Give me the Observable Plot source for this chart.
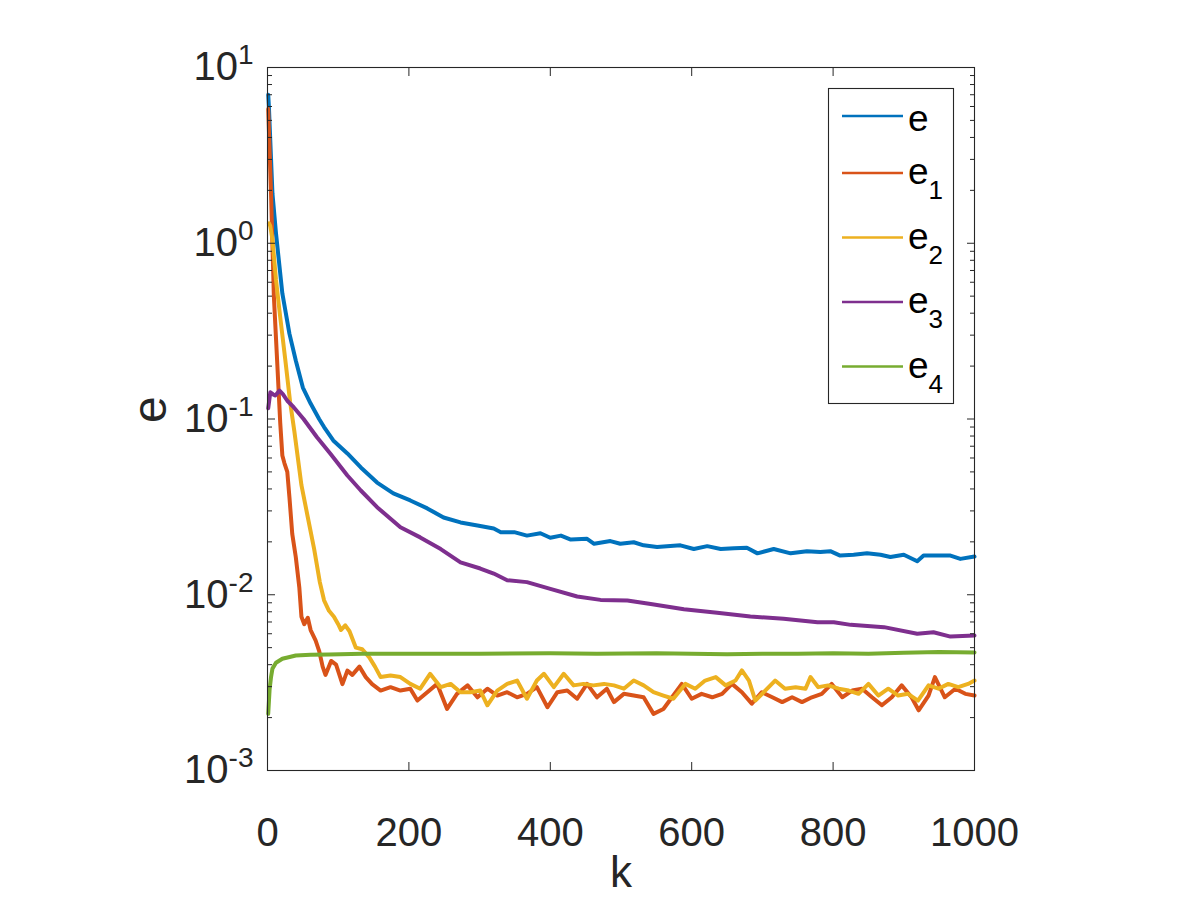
<!DOCTYPE html>
<html>
<head>
<meta charset="utf-8">
<script src="https://cdn.jsdelivr.net/npm/d3@7"></script>
<script src="https://cdn.jsdelivr.net/npm/@observablehq/plot@0.6"></script>
<style>
  html, body { margin: 0; padding: 0; background: #fff; }
  #chart { width: 1200px; height: 900px; }
</style>
</head>
<body>
<div id="chart"></div>
<script>
// Error e and its components e1..e4 against iteration k
const kE = [1,2,7,12,21,31,40,50,61,73,80,93,113,132,155,178,202,226,249,273,297,320,330,349,367,386,400,415,429,452,462,485,499,518,532,551,565,584,603,622,641,660,678,693,716,740,763,782,796,810,829,848,867,881,900,919,928,947,966,980,1000];
const e = [7.0,5.95,1.92,1.14,0.518,0.306,0.215,0.151,0.1225,0.100,0.090,0.0755,0.0637,0.053,0.0435,0.0377,0.0344,0.031,0.0275,0.0258,0.0248,0.0238,0.0227,0.0227,0.0217,0.0224,0.0211,0.0217,0.0206,0.0208,0.0195,0.0202,0.0195,0.0199,0.0191,0.0187,0.0189,0.0191,0.0182,0.0189,0.0182,0.0184,0.0185,0.0172,0.0182,0.0172,0.0177,0.0175,0.0177,0.0167,0.0169,0.0172,0.0169,0.0164,0.0169,0.0155,0.0167,0.0167,0.0167,0.0160,0.0165];

const kE1 = [1,5,9,14,18,21,24,28,31,35,40,45,48,52,57,61,68,73,78,82,90,97,106,113,120,130,139,148,
  160,174,188,202,212,226,240,254,268,283,297,311,325,339,353,367,381,396,410,424,438,452,466,480,490,504,518,532,546,560,574,
  586,600,614,629,643,657,671,685,699,714,728,742,756,770,784,798,813,827,841,855,869,883,897,911,921,935,944,958,973,987,1000];
const e1 = [5.8,1.91,0.50,0.20,0.095,0.062,0.056,0.050,0.036,0.0222,0.0164,0.011,0.0075,0.0068,0.0074,0.0063,0.0055,0.0048,0.0039,0.0035,0.0042,0.0040,0.0031,0.0037,0.0035,0.0039,0.0034,0.0031,
  0.00285,0.00298,0.00285,0.00292,0.00250,0.00279,0.00311,0.00224,0.00273,0.00305,0.00261,0.00292,0.00267,0.00279,0.00261,0.00273,0.00298,0.00229,0.00279,0.00285,0.00256,0.00311,0.00261,0.00292,0.00245,0.00273,0.00267,0.00261,0.00210,0.00224,0.00267,
  0.00311,0.00256,0.00273,0.00261,0.00273,0.00311,0.00279,0.00240,0.00279,0.00261,0.00245,0.00261,0.00245,0.00261,0.00273,0.00311,0.00261,0.00285,0.00292,0.00261,0.00235,0.00261,0.00305,0.00261,0.00220,0.00267,0.00340,0.00261,0.00292,0.00273,0.00267];

const kE2 = [2,4,7,12,18,25,32,38,48,57,66,74,80,87,94,100,104,110,116,125,134,144,152,
  160,174,188,202,216,230,245,259,273,287,301,311,325,339,353,367,381,391,405,419,433,447,461,476,490,504,518,532,546,560,574,
  591,605,619,634,648,662,671,681,690,704,718,732,747,761,768,779,793,808,822,836,850,864,878,892,906,920,935,949,963,977,991,1000];
const e2 = [1.3,1.25,1.05,0.62,0.38,0.22,0.125,0.085,0.042,0.0276,0.0182,0.0118,0.0093,0.0081,0.0075,0.0068,0.0063,0.0067,0.0062,0.0050,0.0049,0.0044,0.0039,
  0.00340,0.00347,0.00340,0.00311,0.00292,0.00355,0.00298,0.00311,0.00279,0.00279,0.00285,0.00235,0.00285,0.00311,0.00325,0.00256,0.00325,0.00355,0.00298,0.00355,0.00305,0.00311,0.00305,0.00311,0.00305,0.00292,0.00325,0.00305,0.00279,0.00267,0.00256,
  0.00311,0.00292,0.00325,0.00340,0.00305,0.00325,0.00371,0.00325,0.00250,0.00285,0.00325,0.00292,0.00298,0.00292,0.00340,0.00298,0.00305,0.00292,0.00285,0.00273,0.00311,0.00267,0.00292,0.00267,0.00273,0.00250,0.00305,0.00292,0.00311,0.00298,0.00311,0.00325];

const kE3 = [1,4,8,11,17,22,28,37,51,70,89,113,132,155,188,216,245,273,301,320,339,367,400,438,471,509,542,589,636,683,730,778,801,825,872,919,942,966,1000];
const e3 = [0.115,0.142,0.138,0.136,0.145,0.138,0.127,0.1167,0.100,0.0787,0.0634,0.0477,0.0392,0.0315,0.0242,0.0212,0.0182,0.0153,0.0141,0.0132,0.0121,0.0118,0.0108,0.00977,0.00935,0.00927,0.00887,0.00827,0.00789,0.00752,0.0073,0.00698,0.00698,0.00674,0.00654,0.0060,0.00612,0.00578,0.00586];

const kE4 = [1,3,5,7,12,21,40,61,87,134,200,300,400,466,550,650,700,750,800,850,900,950,1000];
const e4 = [0.0021,0.0029,0.0034,0.0038,0.0041,0.00432,0.00451,0.00455,0.00457,0.00461,0.00462,0.00462,0.00465,0.00462,0.00465,0.00458,0.00462,0.00462,0.00465,0.00462,0.00468,0.00472,0.0047];

const seriesNames = ["e", "e1", "e2", "e3", "e4"];
const seriesSubs = ["", "1", "2", "3", "4"];
const seriesColors = ["#0072BD", "#D95319", "#EDB120", "#7E2F8E", "#77AC30"];

const xTicks = [0, 200, 400, 600, 800, 1000];
const yMajor = [1e-3, 1e-2, 1e-1, 1, 10];
const yTickLabels = ["10^-3", "10^-2", "10^-1", "10^0", "10^1"];
const yMinor = [-3, -2, -1, 0].flatMap(p => [2, 3, 4, 5, 6, 7, 8, 9].map(d => +(d * Math.pow(10, p)).toPrecision(3)));

const ks = [kE, kE1, kE2, kE3, kE4];
const vs = [e, e1, e2, e3, e4];
const rows = seriesNames.map((name, s) => ks[s].map((k, i) => ({series: name, k, v: vs[s][i]})));

const axisColor = "#262626";
const fontFamily = "'Liberation Sans', Arial, Helvetica, sans-serif";

const chart = Plot.plot({
  width: 1200,
  height: 900,
  marginLeft: 267,
  marginRight: 226,
  marginTop: 67,
  marginBottom: 130,
  style: {fontFamily, fontSize: "40px", color: axisColor, background: "#fff"},
  x: {domain: [0, 1000], axis: null},
  y: {type: "log", domain: [1e-3, 10], axis: null},
  marks: [
    ...rows.map((r, s) => Plot.line(r, {x: "k", y: "v", stroke: seriesColors[s], strokeWidth: 4, strokeLinejoin: "round", strokeLinecap: "round"})),
    Plot.frame({stroke: axisColor, strokeWidth: 1.1}),
    // inward ticks on all four sides
    Plot.axisX({anchor: "bottom", ticks: xTicks, tickSize: -8, fill: "none", label: null, stroke: axisColor}),
    Plot.axisX({anchor: "top", ticks: xTicks, tickSize: -8, fill: "none", label: null, stroke: axisColor}),
    Plot.axisY({anchor: "left", ticks: yMajor, tickSize: -8, fill: "none", label: null, stroke: axisColor}),
    Plot.axisY({anchor: "right", ticks: yMajor, tickSize: -8, fill: "none", label: null, stroke: axisColor}),
    Plot.axisY({anchor: "left", ticks: yMinor, tickSize: -5, fill: "none", label: null, stroke: axisColor}),
    Plot.axisY({anchor: "right", ticks: yMinor, tickSize: -5, fill: "none", label: null, stroke: axisColor}),
    // tick labels
    Plot.axisX({anchor: "bottom", ticks: xTicks, tickSize: 0, tickPadding: 47, tickFormat: d => String(d), label: null, fill: axisColor, fontSize: 40}),
    Plot.text(yMajor, {y: d => d, text: yTickLabels, frameAnchor: "left", textAnchor: "end", dx: -14, fontSize: 40, fill: axisColor}),
    // axis titles
    Plot.text(["k"], {frameAnchor: "bottom", dy: 116, fontSize: 44, fill: axisColor}),
    Plot.text(["e"], {frameAnchor: "left", dx: -117, dy: 4, rotate: -90, fontSize: 48, fill: axisColor})
  ]
});

document.getElementById("chart").appendChild(chart);

// power-of-ten labels with raised exponents
d3.select(chart).selectAll("text").each(function () {
  const m = /^10\^(.+)$/.exec(this.textContent);
  if (!m) return;
  this.textContent = "";
  const t = d3.select(this);
  t.append("tspan").text("10");
  t.append("tspan").attr("font-size", 28).attr("dy", -16).text(m[1]);
});

// legend box
const svg = d3.select(chart);
const lg = svg.append("g")
  .attr("font-family", fontFamily)
  .attr("font-size", 37)
  .attr("text-anchor", "start");
lg.append("rect")
  .attr("x", 828.5).attr("y", 88.5).attr("width", 125).attr("height", 315)
  .attr("fill", "#fff").attr("stroke", axisColor).attr("stroke-width", 1.1);
seriesNames.forEach((name, i) => {
  const cy = i === 0 ? 116 : 173 + (i - 1) * 64.5;
  lg.append("line")
    .attr("x1", 842).attr("x2", 903).attr("y1", cy).attr("y2", cy)
    .attr("stroke", seriesColors[i]).attr("stroke-width", 2.7);
  const t = lg.append("text").attr("x", 908).attr("y", cy + (i === 0 ? 15 : 11)).attr("fill", "#000");
  t.append("tspan").text("e");
  if (seriesSubs[i]) t.append("tspan").attr("font-size", 26).attr("dy", 15).text(seriesSubs[i]);
});
</script>
</body>
</html>
